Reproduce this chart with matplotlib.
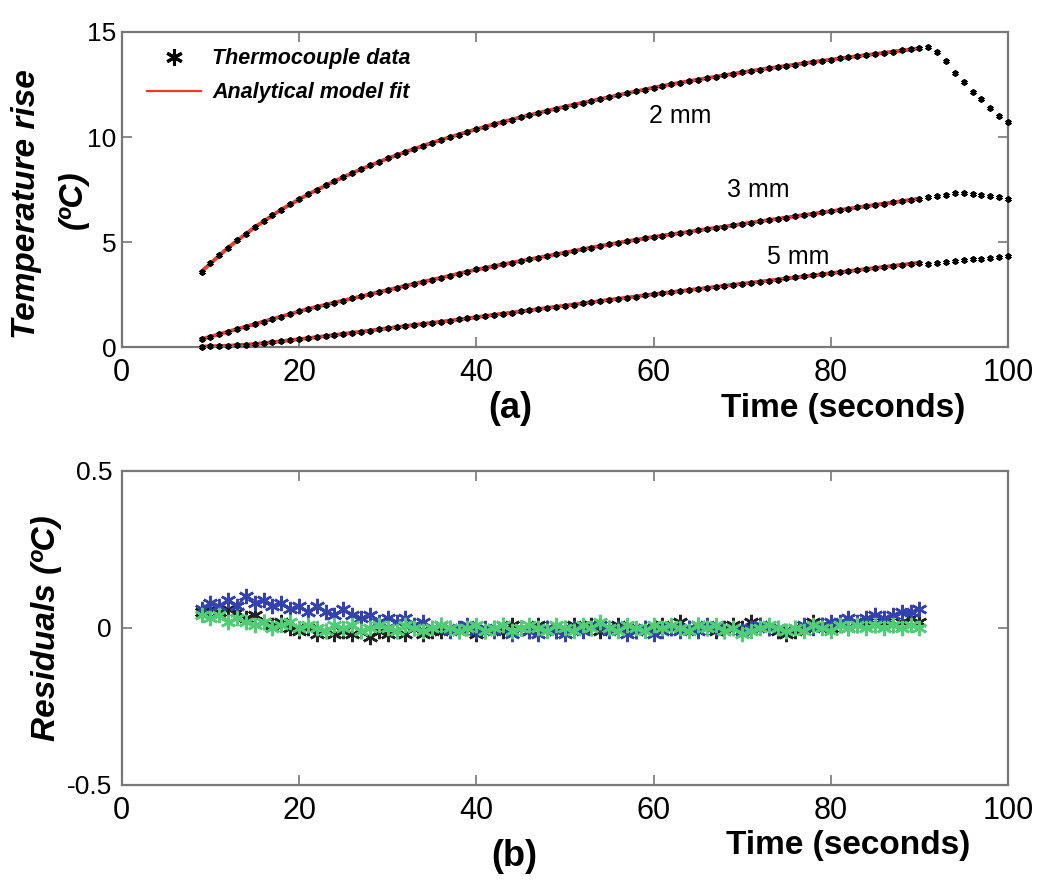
import matplotlib.pyplot as plt
from matplotlib.lines import Line2D

plt.rcParams['font.family'] = ['Liberation Sans', 'DejaVu Sans']

# thermocouple samples, one per second from 9 s to 100 s
t_data = list(range(9, 101))
temp_2mm = [3.60, 4.00, 4.38, 4.74, 5.08, 5.40, 5.71, 6.00, 6.28, 6.55, 6.80, 7.04,
            7.27, 7.49, 7.70, 7.90, 8.10, 8.29, 8.47, 8.65, 8.82, 8.98, 9.14, 9.29,
            9.44, 9.58, 9.72, 9.86, 9.99, 10.12, 10.25, 10.37, 10.49, 10.61, 10.72,
            10.83, 10.94, 11.05, 11.15, 11.25, 11.35, 11.45, 11.54, 11.63, 11.72,
            11.81, 11.90, 11.99, 12.08, 12.17, 12.26, 12.35, 12.43, 12.51, 12.59,
            12.66, 12.73, 12.80, 12.87, 12.94, 13.01, 13.08, 13.14, 13.21, 13.27,
            13.33, 13.39, 13.45, 13.51, 13.57, 13.62, 13.68, 13.74, 13.79, 13.85,
            13.90, 13.96, 14.01, 14.06, 14.12, 14.17, 14.22,
            14.30, 14.05, 13.60, 13.05, 12.60, 12.15, 11.80, 11.40, 11.00, 10.70]
temp_3mm = [0.38, 0.50, 0.62, 0.74, 0.86, 0.98, 1.10, 1.22, 1.34, 1.46, 1.59, 1.72,
            1.82, 1.92, 2.02, 2.12, 2.22, 2.32, 2.42, 2.52, 2.62, 2.72, 2.82, 2.92,
            3.02, 3.12, 3.21, 3.30, 3.40, 3.50, 3.60, 3.70, 3.78, 3.86, 3.94, 4.02,
            4.10, 4.18, 4.26, 4.34, 4.42, 4.50, 4.58, 4.66, 4.74, 4.82, 4.90, 4.97,
            5.04, 5.11, 5.18, 5.25, 5.31, 5.37, 5.43, 5.50, 5.56, 5.62, 5.68, 5.74,
            5.80, 5.87, 5.93, 5.99, 6.05, 6.11, 6.17, 6.23, 6.29, 6.35, 6.41, 6.47,
            6.53, 6.59, 6.65, 6.71, 6.77, 6.83, 6.89, 6.95, 7.01, 7.07,
            7.15, 7.18, 7.26, 7.34, 7.34, 7.31, 7.23, 7.18, 7.13, 7.06]
temp_5mm = [0.03, 0.04, 0.05, 0.07, 0.09, 0.12, 0.15, 0.19, 0.23, 0.28, 0.33, 0.38,
            0.43, 0.48, 0.53, 0.58, 0.63, 0.69, 0.74, 0.79, 0.85, 0.90, 0.95, 1.00,
            1.06, 1.11, 1.16, 1.21, 1.27, 1.32, 1.37, 1.42, 1.48, 1.54, 1.59, 1.65,
            1.70, 1.76, 1.81, 1.87, 1.92, 1.98, 2.03, 2.09, 2.14, 2.20, 2.25, 2.31,
            2.36, 2.41, 2.47, 2.52, 2.57, 2.62, 2.67, 2.72, 2.77, 2.82, 2.87, 2.92,
            2.97, 3.02, 3.07, 3.12, 3.17, 3.22, 3.27, 3.32, 3.37, 3.42, 3.47, 3.52,
            3.57, 3.62, 3.67, 3.72, 3.77, 3.82, 3.87, 3.92, 3.97, 4.02,
            3.97, 4.02, 4.07, 4.10, 4.13, 4.18, 4.21, 4.24, 4.29, 4.33]

# analytical model fit, 9 s to 90 s
t_fit = list(range(9, 91, 3))
fit_2mm = [3.60, 4.74, 5.71, 6.55, 7.27, 7.90, 8.47, 8.98, 9.44, 9.86, 10.25, 10.61,
           10.94, 11.25, 11.54, 11.81, 12.08, 12.35, 12.59, 12.80, 13.01, 13.21,
           13.39, 13.57, 13.74, 13.90, 14.06, 14.22]
fit_3mm = [0.38, 0.74, 1.10, 1.46, 1.82, 2.12, 2.42, 2.72, 3.02, 3.30, 3.60, 3.86,
           4.10, 4.34, 4.58, 4.82, 5.04, 5.25, 5.43, 5.62, 5.80, 5.99, 6.17, 6.35,
           6.53, 6.71, 6.89, 7.07]
fit_5mm = [0.03, 0.07, 0.15, 0.28, 0.43, 0.58, 0.74, 0.90, 1.06, 1.21, 1.37, 1.54,
           1.70, 1.87, 2.03, 2.20, 2.36, 2.52, 2.67, 2.82, 2.97, 3.12, 3.27, 3.42,
           3.57, 3.72, 3.87, 4.02]

curve_labels = ['2 mm', '3 mm', '5 mm']
label_pos = [(63.0, 11.0), (71.8, 7.5), (76.3, 4.3)]

# residuals, 9 s to 90 s
t_res = list(range(9, 91))
res_black = [0.05, 0.06, 0.05, 0.06, 0.05, 0.03, 0.04, 0.02, 0.01, 0.02, 0.00, -0.01,
             0.00, -0.02, -0.01, -0.02, -0.01, -0.02, -0.01, -0.03, -0.01, -0.02,
             -0.01, -0.02, 0.00, -0.02, -0.01, -0.01, 0.00, -0.01, 0.00, -0.02,
             -0.01, 0.00, -0.01, 0.01, 0.00, -0.01, 0.01, 0.00, -0.01, 0.00, 0.01,
             0.00, 0.01, -0.01, 0.00, 0.01, 0.00, -0.01, 0.00, 0.00, 0.01, 0.00,
             0.02, 0.00, 0.01, 0.00, -0.01, 0.00, 0.01, 0.00, 0.02, 0.01, 0.00,
             -0.01, -0.02, -0.01, 0.00, 0.02, 0.01, 0.00, 0.01, 0.00, 0.01, 0.02,
             0.01, 0.02, 0.01, 0.02, 0.03, 0.02]
res_blue = [0.06, 0.08, 0.07, 0.09, 0.07, 0.10, 0.08, 0.09, 0.07, 0.08, 0.06, 0.07,
            0.05, 0.07, 0.05, 0.04, 0.06, 0.04, 0.03, 0.04, 0.02, 0.03, 0.02, 0.03,
            0.01, 0.02, 0.00, 0.01, -0.01, 0.00, 0.01, -0.01, 0.00, -0.01, 0.01,
            -0.02, 0.00, -0.01, -0.02, 0.00, -0.01, -0.02, 0.00, -0.01, 0.00, 0.01,
            -0.01, 0.00, -0.02, -0.01, 0.00, -0.02, -0.01, 0.00, -0.01, 0.00, -0.01,
            0.01, 0.00, -0.01, 0.00, -0.01, 0.00, 0.01, 0.00, 0.00, -0.01, 0.00,
            0.01, 0.00, 0.01, 0.02, 0.02, 0.03, 0.02, 0.03, 0.04, 0.03, 0.04, 0.05,
            0.05, 0.06]
res_green = [0.04, 0.03, 0.04, 0.02, 0.03, 0.02, 0.01, 0.02, 0.00, 0.01, 0.02, 0.00,
             0.01, 0.00, -0.01, 0.01, 0.00, 0.01, -0.01, 0.00, 0.01, 0.00, -0.01,
             0.01, 0.00, -0.01, 0.00, 0.01, 0.00, -0.01, 0.00, 0.01, -0.01, 0.00,
             0.01, -0.01, 0.00, 0.01, 0.00, -0.01, 0.01, 0.00, -0.01, 0.01, 0.00,
             0.02, 0.00, -0.01, 0.01, 0.00, -0.01, 0.01, 0.00, 0.01, 0.00, -0.01,
             0.01, 0.00, 0.01, -0.01, 0.00, -0.02, -0.01, 0.00, 0.01, 0.00, -0.01,
             0.00, -0.01, 0.01, 0.00, -0.01, 0.01, 0.00, 0.01, 0.00, 0.01, 0.00,
             0.01, 0.00, 0.01, 0.00]

spine_col = '#777777'
red = '#f23a2a'
ast = (6, 2, 0)  # matlab-style asterisk

fig = plt.figure(figsize=(10.5, 8.88), dpi=100)
ax1 = fig.add_axes([0.116, 0.609, 0.844, 0.355])
ax2 = fig.add_axes([0.116, 0.116, 0.844, 0.354])

for temp, fit in [(temp_2mm, fit_2mm), (temp_3mm, fit_3mm), (temp_5mm, fit_5mm)]:
    ax1.plot(t_fit, fit, color=red, lw=2.8, zorder=2)
    ax1.plot(t_data, temp, ls='none', marker=ast, ms=4.5, mew=1.4,
             color='black', zorder=3, clip_on=False)

for lab, (x, y) in zip(curve_labels, label_pos):
    ax1.text(x, y, lab, fontsize=18, ha='center', va='center')

handles = [Line2D([], [], ls='none', marker=ast, ms=12, mew=2.2, color='black'),
           Line2D([], [], color=red, lw=1.6)]
ax1.legend(handles, ['Thermocouple data', 'Analytical model fit'],
           loc='upper left', bbox_to_anchor=(0.029, 0.948), frameon=False,
           borderpad=0, borderaxespad=0, handlelength=2.5, handletextpad=0.5,
           labelspacing=0.6,
           prop={'weight': 'bold', 'style': 'italic', 'size': 15.5})

ax1.set_xlim(0, 100)
ax1.set_ylim(0, 15)
ax1.set_yticks([0, 5, 10, 15])

ax2.plot(t_res, res_black, color='#222222', marker=ast, ms=11, mew=1.8, lw=1.6, zorder=2)
ax2.plot(t_res, res_blue, color='#3442b0', marker=ast, ms=11, mew=1.8, lw=1.6, zorder=3)
ax2.plot(t_res, res_green, color='#4fce74', marker=ast, ms=11, mew=1.8, lw=1.6, zorder=4)
ax2.set_xlim(0, 100)
ax2.set_ylim(-0.5, 0.5)
ax2.set_yticks([-0.5, 0, 0.5])
ax2.set_yticklabels(['-0.5', '0', '0.5'])

for ax in (ax1, ax2):
    ax.set_xticks([0, 20, 40, 60, 80, 100])
    for s in ax.spines.values():
        s.set_color(spine_col)
        s.set_linewidth(1.6)
    ax.tick_params(direction='in', top=True, right=True, length=7, width=1.2,
                   color=spine_col, labelsize=22, pad=8)
ax1.tick_params(axis='y', labelsize=19, pad=4)
ax2.tick_params(axis='y', labelsize=19, pad=7)

fig.text(0.025, 0.77, 'Temperature rise', rotation=90, ha='center', va='center',
         fontsize=24, fontweight='bold', style='italic')
fig.text(0.07, 0.775, '(ºC)', rotation=90, ha='center', va='center',
         fontsize=24, fontweight='bold', style='italic')
fig.text(0.044, 0.293, 'Residuals (ºC)', rotation=90, ha='center', va='center',
         fontsize=24, fontweight='bold', style='italic')

fig.text(0.486, 0.54, '(a)', ha='center', va='center', fontsize=26, fontweight='bold')
fig.text(0.803, 0.54, 'Time (seconds)', ha='center', va='center', fontsize=24,
         fontweight='bold')
fig.text(0.49, 0.035, '(b)', ha='center', va='center', fontsize=26, fontweight='bold')
fig.text(0.808, 0.048, 'Time (seconds)', ha='center', va='center', fontsize=24,
         fontweight='bold')

fig.savefig('out.png', dpi=100)
